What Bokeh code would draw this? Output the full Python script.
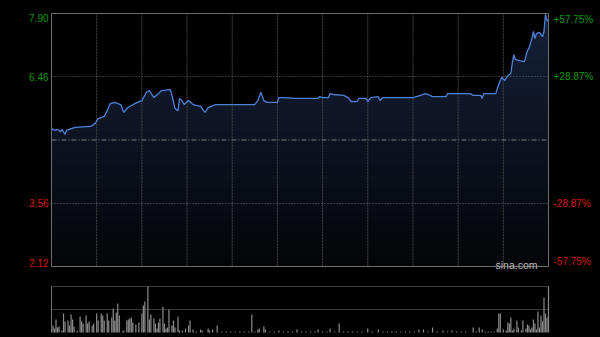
import numpy as np
from bokeh.plotting import figure
from bokeh.models import Range1d, ColumnDataSource
from bokeh.core.properties import value
from bokeh.embed import file_html
from bokeh.resources import INLINE

# ---- data ----
session_minutes = 330          # 09:30-12:00 + 13:00-16:00
time_grid = [30, 60, 90, 120, 150, 180, 210, 240, 270, 300]

price_minutes = [0, 2, 4, 6, 7, 9, 10, 13, 16, 26, 29, 31, 35, 37, 39, 42, 44, 46, 48, 50,
                 52, 57, 60, 63, 65, 68, 71, 73, 79, 80, 82, 84, 85, 87, 88, 91, 94, 99, 101, 102,
                 104, 109, 135, 137, 139, 141, 143, 150, 151, 155, 161, 177, 178, 180, 184, 185, 187, 194, 197, 199,
                 203, 204, 209, 210, 212, 217, 218, 220, 232, 240, 245, 248, 250, 253, 262, 263, 278, 280, 285, 286,
                 287, 295, 296, 298, 299, 301, 303, 305, 306, 307, 308, 310, 314, 316, 317, 319, 320, 321, 322, 324,
                 326, 327, 328, 329, 330]
price_values = [5.27, 5.23, 5.25, 5.20, 5.25, 5.14, 5.23, 5.27, 5.30, 5.32, 5.39, 5.50, 5.55, 5.68, 5.84, 5.87, 5.84, 5.82, 5.64, 5.73,
                5.78, 5.87, 5.91, 6.10, 6.14, 5.98, 6.07, 6.14, 6.16, 6.03, 5.73, 5.68, 5.96, 5.89, 5.82, 5.91, 5.82, 5.78, 5.68, 5.64,
                5.75, 5.82, 5.82, 5.91, 6.10, 5.91, 5.87, 5.87, 5.98, 5.98, 5.96, 5.96, 6.00, 5.98, 5.98, 6.07, 6.05, 6.03, 5.98, 5.89,
                5.89, 5.96, 5.96, 5.89, 5.98, 6.00, 5.91, 5.98, 5.98, 5.98, 6.03, 6.07, 6.05, 6.00, 6.00, 6.07, 6.07, 6.03, 6.03, 5.96,
                6.07, 6.07, 6.19, 6.37, 6.44, 6.37, 6.48, 6.53, 6.78, 6.96, 6.85, 6.83, 6.80, 7.05, 7.10, 7.33, 7.49, 7.33, 7.44, 7.47,
                7.37, 7.49, 7.88, 7.74, 7.74]

vol_minutes = [1, 2, 3, 4, 5, 7, 8, 9, 11, 12, 13, 14, 15, 17, 19, 20, 21, 23, 24, 25,
               27, 28, 30, 31, 33, 34, 35, 37, 38, 40, 41, 42, 43, 44, 45, 47, 48, 50, 51, 52,
               53, 54, 56, 58, 60, 61, 62, 64, 65, 66, 68, 69, 70, 71, 72, 74, 75, 76, 77, 78,
               80, 81, 82, 84, 85, 87, 89, 91, 92, 94, 96, 99, 100, 104, 105, 107, 110, 113, 116, 119,
               122, 125, 128, 131, 133, 135, 137, 138, 141, 142, 145, 148, 151, 154, 157, 160, 163, 166, 169, 172,
               175, 177, 180, 183, 185, 188, 191, 194, 197, 200, 203, 206, 210, 213, 217, 220, 223, 226, 229, 232,
               235, 238, 241, 244, 247, 250, 253, 256, 260, 263, 266, 269, 272, 275, 280, 282, 284, 286, 288, 290,
               292, 294, 296, 297, 298, 300, 302, 303, 304, 305, 306, 307, 309, 310, 312, 313, 315, 316, 317, 318,
               319, 320, 321, 322, 323, 324, 325, 326, 327, 328, 329, 330]
vol_values = [7, 4, 13, 5, 6, 2, 19, 11, 12, 7, 18, 13, 6, 2, 16, 11, 9, 17, 9, 11,
              7, 9, 19, 12, 19, 17, 12, 19, 12, 15, 24, 12, 20, 29, 17, 1, 2, 12, 13, 14,
              15, 10, 8, 10, 19, 27, 31, 46, 13, 18, 14, 9, 4, 10, 14, 26, 9, 4, 5, 23,
              7, 12, 5, 16, 2, 2, 4, 7, 12, 3, 1, 3, 2, 4, 2, 3, 7, 1, 1, 1,
              1, 1, 1, 1, 18, 1, 3, 4, 6, 3, 1, 1, 2, 1, 1, 1, 3, 1, 1, 1,
              1, 3, 1, 1, 4, 1, 9, 1, 1, 1, 1, 1, 4, 1, 3, 1, 1, 1, 1, 1,
              1, 1, 1, 3, 3, 1, 5, 1, 2, 1, 2, 1, 1, 1, 5, 1, 5, 3, 1, 1,
              1, 1, 4, 19, 19, 3, 2, 10, 9, 15, 2, 4, 12, 5, 2, 12, 4, 8, 7, 3,
              5, 13, 9, 3, 21, 5, 17, 11, 35, 19, 15, 46]
vol_top = 46

axis_prices = [7.90, 6.46, 5.01, 3.56, 2.12]
axis_pct = ["+57.75%", "+28.87%", "0.00%", "-28.87%", "-57.75%"]
prev_close = 5.01
watermark = "sina.com"

y_min, y_max = axis_prices[-1], axis_prices[0]

# ---- layout (pixels) ----
W, H = 600, 337
PLOT_L, PLOT_R = 51, 548          # price & volume box, x
PRICE_T, PRICE_B = 13, 266        # price box, y
VOL_T, VOL_B = 286, 332           # volume box, y

ppm = (PLOT_R - PLOT_L) / session_minutes
x_start = -PLOT_L / ppm
x_end = session_minutes + (W - PLOT_R) / ppm
ppu = (PRICE_B - PRICE_T) / (y_max - y_min)
y_start = y_min - (H - PRICE_B) / ppu
y_end = y_max + PRICE_T / ppu
vppu = (VOL_B - VOL_T) / vol_top
v_start = -(H - VOL_B) / vppu
v_end = vol_top + VOL_T / vppu

# ---- styles ----
BG = "#000000"
UP = "#0a9a0a"
DOWN = "#d21212"
LINE = "#4f80d8"
FONT = "Liberation Sans"

p = figure(width=W, height=H, x_range=Range1d(x_start, x_end), y_range=Range1d(y_start, y_end),
           x_axis_type=None, y_axis_type=None, toolbar_location=None, output_backend="svg",
           min_border_left=0, min_border_right=0, min_border_top=0, min_border_bottom=0,
           background_fill_color=BG, border_fill_color=BG, outline_line_color=None)
p.extra_y_ranges = {"vol": Range1d(v_start, v_end)}

# gradient fill under the price line (bands, drawn top to bottom)
n_bands = 60
edges = np.linspace(y_min, y_max, n_bands + 1)
top_rgb = np.array([21, 33, 58])
bot_rgb = np.array([4, 5, 8])
pv = np.array(price_values)
for i in reversed(range(n_bands)):
    frac = (i + 0.5) / n_bands
    rgb = (bot_rgb + (top_rgb - bot_rgb) * frac).astype(int)
    col = "#%02x%02x%02x" % tuple(rgb)
    p.varea(x=price_minutes, y1=y_min, y2=np.minimum(pv, edges[i + 1]), fill_color=col)

# vertical time grid (price box)
nt = len(time_grid)
p.segment(x0=time_grid, y0=[y_min] * nt, x1=time_grid, y1=[y_max] * nt,
          line_color="#474747", line_dash="2 1", line_width=1)

# horizontal price grid
mid_levels = [yv for yv in axis_prices[1:-1] if yv != prev_close]
p.segment(x0=[0] * len(mid_levels), y0=mid_levels, x1=[session_minutes] * len(mid_levels),
          y1=mid_levels, line_color="#6c6c6c", line_dash="1 2", line_width=1)
p.segment(x0=[0], y0=[prev_close], x1=[session_minutes], y1=[prev_close],
          line_color="#7c7c7c", line_dash="5 2 1 2", line_width=1.2)

# price box border
p.quad(left=[0], right=[session_minutes], bottom=[y_min], top=[y_max],
       fill_color=None, line_color="#6e6e6e", line_width=1)

p.line(price_minutes, price_values, line_color=LINE, line_width=1.3)

# axis labels
n = len(axis_prices)
lab_y, lab_l, lab_r, lab_c, lab_b = [], [], [], [], []
for i, (yv, pct) in enumerate(zip(axis_prices, axis_pct)):
    if yv == prev_close:
        continue
    lab_y.append(yv)
    lab_l.append("%.2f" % yv)
    lab_r.append(pct)
    lab_c.append(UP if yv > prev_close else DOWN)
    lab_b.append("top" if i == 0 else ("bottom" if i == n - 1 else "middle"))
src = ColumnDataSource(dict(y=lab_y, tl=lab_l, tr=lab_r, c=lab_c, b=lab_b,
                            xl=[0] * len(lab_y), xr=[session_minutes] * len(lab_y)))
p.text(x="xl", y="y", text="tl", source=src, text_align="right", text_baseline="b",
       x_offset=-3, text_color="c", text_font=value(FONT), text_font_size="10px")
p.text(x="xr", y="y", text="tr", source=src, text_align="left", text_baseline="b",
       x_offset=5, text_color="c", text_font=value(FONT), text_font_size="10px")

p.text(x=[session_minutes], y=[y_min], text=[watermark], text_align="right",
       text_baseline="alphabetic", x_offset=-11, y_offset=-2,
       text_color="#b8b8b8", text_font=value(FONT), text_font_size="10.5px")

# ---- volume panel ----
p.segment(x0=[0, 0], y0=[vol_top, vol_top / 2], x1=[session_minutes, session_minutes],
          y1=[vol_top, vol_top / 2], line_color="#707070", line_dash="1 1", y_range_name="vol")
p.segment(x0=[0], y0=[0], x1=[0], y1=[vol_top], line_color="#707070", line_width=1,
          y_range_name="vol")
p.vbar(x=vol_minutes, top=vol_values, width=0.8, bottom=0, fill_color="#8c8c8c",
       line_color=None, y_range_name="vol")

html = file_html(p, INLINE)
html = html.replace("<head>", "<head><style>html,body{margin:0;background:#000;}</style>", 1)
open("out.html", "w").write(html)
